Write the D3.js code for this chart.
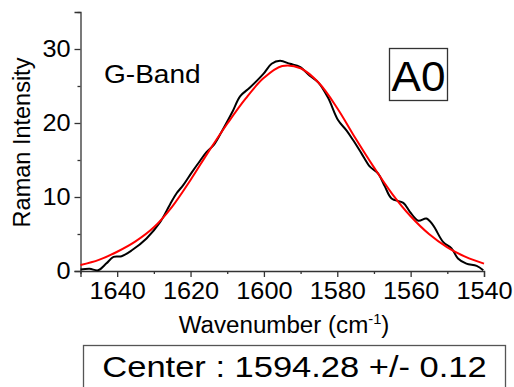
<!DOCTYPE html>
<html>
<head>
<meta charset="utf-8">
<script src="https://cdn.jsdelivr.net/npm/d3@7"></script>
<style>
  body { margin: 0; background: #fff; }
  svg { display: block; font-family: "Liberation Sans", Arial, sans-serif; }
</style>
</head>
<body>
<div id="chart"></div>
<script>
// measured spectrum (wavenumber, intensity)
var rawWave = [1650, 1647.5, 1645.2, 1643, 1641, 1638.8, 1636, 1632, 1628.3, 1625.6, 1623.8, 1622,
  1619.7, 1617.4, 1615.6, 1613.7, 1611, 1608.4, 1606.5, 1603.8, 1600.2, 1597.9, 1595.6, 1592.9,
  1590.2, 1587.5, 1585.2, 1582.5, 1579.8, 1577.5, 1575.7, 1573.4, 1571.1, 1568.9, 1567, 1565.2,
  1562, 1560.2, 1557.9, 1555.7, 1553.9, 1551.1, 1548.9, 1547.1, 1544.8, 1542, 1540.2];
var rawInt = [0.2, 0.3, 0.1, 1.0, 1.9, 2.0, 2.8, 4.4, 6.6, 9.0, 10.5, 11.6,
  13.3, 14.9, 16.1, 17.0, 19.3, 21.7, 23.6, 24.8, 26.6, 28.0, 28.4, 28.0,
  27.6, 26.4, 25.5, 23.4, 20.4, 19.0, 17.7, 15.9, 14.1, 13.2, 11.4, 9.8,
  9.2, 8.0, 6.8, 7.1, 6.2, 3.9, 3.1, 1.7, 1.0, 0.7, 0.1];

// fitted peak
var fitWave = [1650, 1645, 1640, 1635, 1630, 1625, 1620, 1615, 1610, 1605, 1600, 1595,
  1590, 1585, 1580, 1575, 1570, 1565, 1560, 1555, 1550, 1545, 1540];
var fitInt = [0.8, 1.5, 2.6, 4.0, 5.9, 8.7, 12.3, 16.2, 19.9, 23.3, 26.1, 27.7,
  27.4, 25.4, 22.0, 17.9, 14.0, 10.4, 7.4, 5.0, 3.2, 1.9, 1.0];

var xMajor = [1640, 1620, 1600, 1580, 1560, 1540];
var xMinor = [1650, 1630, 1610, 1590, 1570, 1550];
var yMajor = [0, 10, 20, 30];
var yMinor = [5, 15, 25, 35];

var bandLabel = "G-Band";
var sampleLabel = "A0";
var centerLabel = "Center : 1594.28 +/- 0.12";

var width = 514, height = 387;
var margin = { left: 80.5, top: 12, right: 30, bottom: 116 };
var innerWidth = width - margin.left - margin.right;
var innerHeight = height - margin.top - margin.bottom;
var stretch = 1.1; // the source text is a little wider than Liberation Sans

var svg = d3.select("#chart").append("svg")
  .attr("width", width)
  .attr("height", height);

var g = svg.append("g")
  .attr("transform", "translate(" + margin.left + "," + margin.top + ")");

var x = d3.scaleLinear().domain([1650, 1540]).range([0, innerWidth]);
var y = d3.scaleLinear().domain([0, 35]).range([innerHeight, 0]);

// minor ticks first, then labelled major ticks
var xMinorG = g.append("g")
  .attr("transform", "translate(0," + innerHeight + ")")
  .call(d3.axisBottom(x).tickValues(xMinor).tickSize(3));
var xAxisG = g.append("g")
  .attr("transform", "translate(0," + innerHeight + ")")
  .call(d3.axisBottom(x).tickValues(xMajor).tickSize(6).tickPadding(6).tickFormat(d3.format("d")));

var yMinorG = g.append("g")
  .call(d3.axisLeft(y).tickValues(yMinor).tickSize(3));
var yAxisG = g.append("g")
  .call(d3.axisLeft(y).tickValues(yMajor).tickSize(6).tickPadding(3).tickFormat(d3.format("d")));

// minor axes keep only their tick marks
[xMinorG, yMinorG].forEach(function(a) {
  a.select(".domain").remove();
  a.selectAll("text").remove();
});
[xMinorG, xAxisG, yMinorG, yAxisG].forEach(function(a) {
  a.selectAll("line").attr("stroke", "#333").attr("stroke-width", 1.3);
  a.select(".domain").attr("stroke", "#333").attr("stroke-width", 1.3);
  a.selectAll("text").attr("font-size", "23px").attr("fill", "#000")
    .attr("transform", "scale(" + stretch + ",1)")
    .style("font-family", '"Liberation Sans", Arial, sans-serif');
});

// curves
var line = function(xs, ys) {
  return d3.line()
    .x(function(d, i) { return x(xs[i]); })
    .y(function(d, i) { return y(ys[i]); })
    .curve(d3.curveCatmullRom)(xs);
};

g.append("path")
  .attr("d", line(rawWave, rawInt))
  .attr("fill", "none")
  .attr("stroke", "#000")
  .attr("stroke-width", 2);

g.append("path")
  .attr("d", line(fitWave, fitInt))
  .attr("fill", "none")
  .attr("stroke", "#ff0000")
  .attr("stroke-width", 2);

function label(px, py, size, sx, anchor, txt) {
  return svg.append("text")
    .attr("transform", "translate(" + px + "," + py + ") scale(" + sx + ",1)")
    .attr("text-anchor", anchor)
    .attr("font-size", size + "px")
    .text(txt);
}

// axis titles
svg.append("text")
  .attr("transform", "translate(30,142.5) rotate(-90)")
  .attr("text-anchor", "middle")
  .attr("font-size", "23.5px")
  .text("Raman Intensity");

var xt = label(284, 333, 23, 1.05, "middle", null);
xt.append("tspan").text("Wavenumber (cm");
xt.append("tspan").attr("font-size", "14px").attr("dy", -9).text("-1");
xt.append("tspan").attr("dy", 9).text(")");

// annotations
label(104, 83, 25.5, stretch, "start", bandLabel);

svg.append("rect")
  .attr("x", 389.5).attr("y", 48.5)
  .attr("width", 58).attr("height", 52)
  .attr("fill", "none").attr("stroke", "#333").attr("stroke-width", 1.3);
label(418.5, 90.5, 42, 1.05, "middle", sampleLabel);

svg.append("rect")
  .attr("x", 83.5).attr("y", 345.5)
  .attr("width", 422).attr("height", 60)
  .attr("fill", "none").attr("stroke", "#555").attr("stroke-width", 1.3);
label(294.5, 377, 30, 1.15, "middle", centerLabel);
</script>
</body>
</html>
